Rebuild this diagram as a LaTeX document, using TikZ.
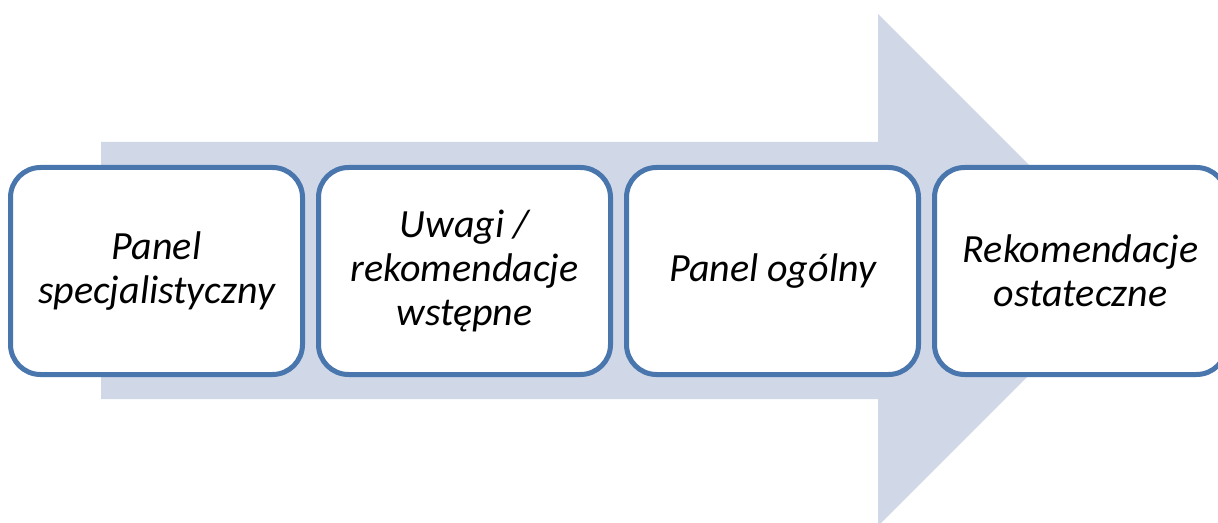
\documentclass[tikz,border=0pt]{standalone}
\usepackage{fontspec}
\setmainfont{Carlito}
\definecolor{arrowfill}{HTML}{D0D8E8}
\definecolor{boxline}{HTML}{4A76AE}
\begin{document}
\begin{tikzpicture}[x=0.5pt,y=-0.5pt,
  stepbox/.style={draw=boxline, line width=2.5pt, fill=white, rounded corners=15pt,
    minimum width=146pt, minimum height=103.5pt, align=center, inner sep=0pt,
    font=\fontsize{20}{22}\selectfont\itshape, text=black}]
\useasboundingbox (0,0) rectangle (1218,523);
\begin{scope}
\clip (0,0) rectangle (1218,523);
\fill[arrowfill] (101,142) -- (878,142) -- (878,14) -- (1134,270) -- (878,526) -- (878,399) -- (101,399) -- cycle;
\node[stepbox] (b1) at (156.5,271) {Panel\\specjalistyczny};
\node[stepbox] (b2) at (464.5,271) {Uwagi /\\rekomendacje\\wstępne};
\node[stepbox] (b3) at (772.5,271) {Panel ogólny};
\node[stepbox] (b4) at (1080.5,271) {Rekomendacje\\ostateczne};
\end{scope}
\end{tikzpicture}
\end{document}
